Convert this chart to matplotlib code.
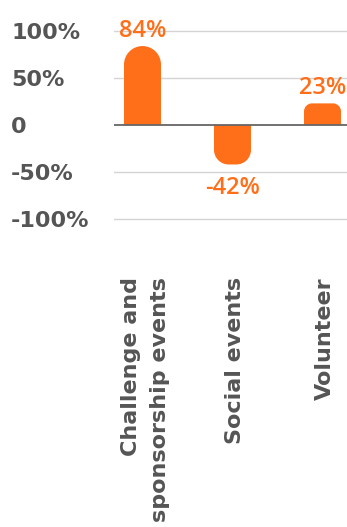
import matplotlib
matplotlib.use("Agg")
import matplotlib.pyplot as plt
import matplotlib.path as mpath
import matplotlib.patches as mpatches
import matplotlib.transforms as mtransforms

categories = ["Challenge and\nsponsorship events", "Social events", "Volunteer"]
values = [84, -42, 23]
value_labels = ["84%", "-42%", "23%"]
yticks = [100, 50, 0, -50, -100]
ytick_labels = ["100%", "50%", "0", "-50%", "-100%"]

ORANGE = "#FF6F1A"
GREY_TEXT = "#555555"
W, H = 347, 527
fig = plt.figure(figsize=(W / 100, H / 100), dpi=100)

ax_left_px, ax_right_px = 114, 347
y_top_px, y_bot_px = 31, 219  # pixel rows of +100 / -100
ylim = (-105, 105)
px_per_unit_y = (y_bot_px - y_top_px) / 200.0
top_px = y_top_px - (ylim[1] - 100) * px_per_unit_y
bot_px = y_bot_px + (-100 - ylim[0]) * px_per_unit_y
ax = fig.add_axes([ax_left_px / W, 1 - bot_px / H,
                   (ax_right_px - ax_left_px) / W, (bot_px - top_px) / H])
px_per_unit_x = 90.0
xlim = (0 - (142.5 - ax_left_px) / px_per_unit_x, 2 + (ax_right_px - 322.5) / px_per_unit_x)
ax.set_xlim(*xlim)
ax.set_ylim(*ylim)

for s in ax.spines.values():
    s.set_visible(False)

for t in yticks:
    if t != 0:
        ax.axhline(t, color="#d4d4d4", lw=1.0, zorder=0)
ax.axhline(0, color="#666666", lw=1.3, zorder=3)

bar_w = 37 / px_per_unit_x
k = 0.5523
for i, v in enumerate(values):
    c = i
    hw = bar_w / 2
    h_px = abs(v) * px_per_unit_y
    r_px = min(18.5, h_px * 0.37)
    rx = r_px / px_per_unit_x
    ry = r_px / px_per_unit_y
    s = 1 if v >= 0 else -1
    verts = [
        (c - hw, 0),
        (c - hw, v - s * ry),
        (c - hw, v - s * ry + s * k * ry), (c - hw + rx - k * rx, v), (c - hw + rx, v),
        (c + hw - rx, v),
        (c + hw - rx + k * rx, v), (c + hw, v - s * ry + s * k * ry), (c + hw, v - s * ry),
        (c + hw, 0),
        (c - hw, 0),
    ]
    codes = [mpath.Path.MOVETO, mpath.Path.LINETO,
             mpath.Path.CURVE4, mpath.Path.CURVE4, mpath.Path.CURVE4,
             mpath.Path.LINETO,
             mpath.Path.CURVE4, mpath.Path.CURVE4, mpath.Path.CURVE4,
             mpath.Path.LINETO, mpath.Path.CLOSEPOLY]
    ax.add_patch(mpatches.PathPatch(mpath.Path(verts, codes), facecolor=ORANGE,
                                    edgecolor="none", zorder=2))
    if v >= 0:
        ax.annotate(value_labels[i], (c, v), xytext=(0, 6.5), textcoords="offset points",
                    ha="center", va="baseline", color=ORANGE, fontsize=17,
                    family=["Open Sans", "DejaVu Sans"], fontweight=600, fontstyle="normal")
    else:
        ax.annotate(value_labels[i], (c, v), xytext=(0, -8), textcoords="offset points",
                    ha="center", va="top", color=ORANGE, fontsize=17,
                    family=["Open Sans", "DejaVu Sans"], fontweight=600, fontstyle="normal")

ax.set_xticks([])
ax.set_yticks(yticks)
ax.set_yticklabels(ytick_labels)
ax.tick_params(axis="y", length=0, pad=(ax_left_px - 11) * 0.72)
for lab in ax.get_yticklabels():
    lab.set_horizontalalignment("left")
    lab.set_fontweight("bold")
    lab.set_color(GREY_TEXT)
    lab.set_fontsize(16)

trans = mtransforms.blended_transform_factory(ax.transData, fig.transFigure)
for i, cat in enumerate(categories):
    ax.text(i + 0.03, 1 - 277 / H, cat, transform=trans, rotation=90,
            ha="center", va="top", multialignment="right",
            fontsize=16, fontweight="bold", color=GREY_TEXT, linespacing=1.55)

fig.savefig("out.png", dpi=100)
